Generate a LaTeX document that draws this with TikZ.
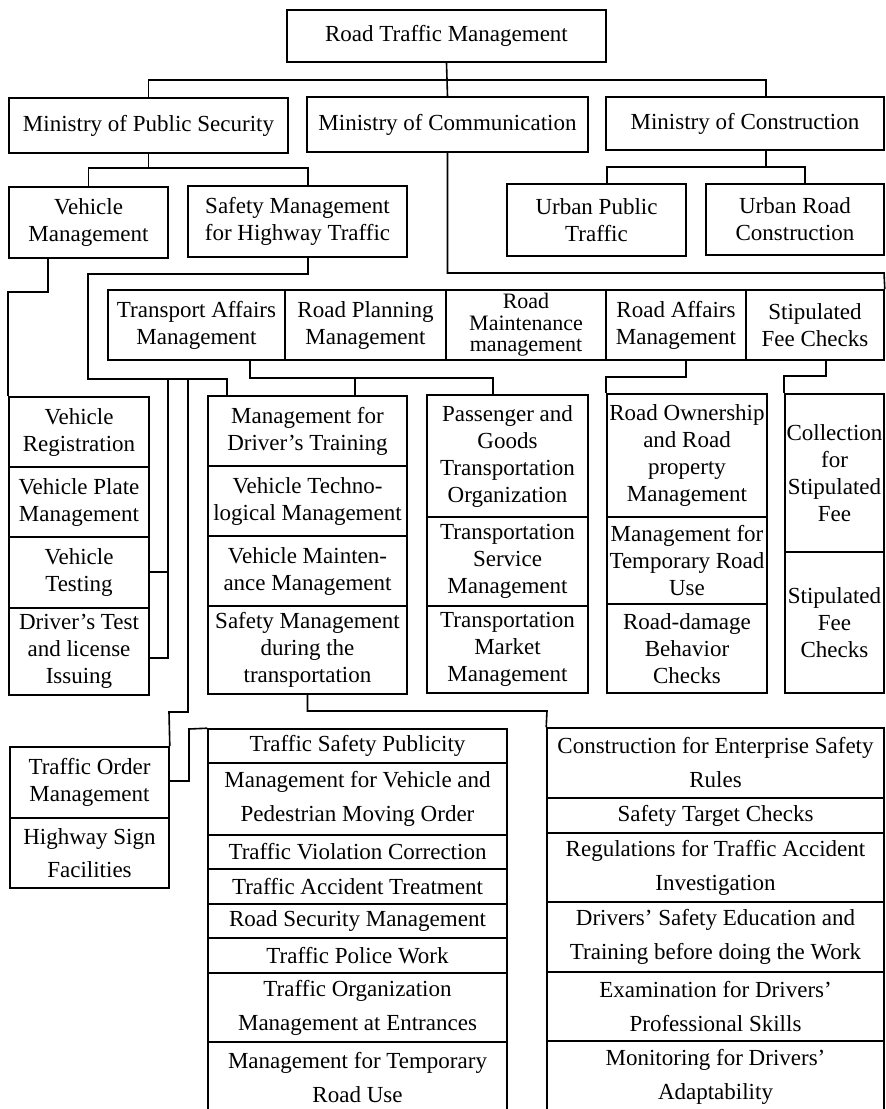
\documentclass[tikz,border=0pt]{standalone}
\usepackage{fontspec}
\setmainfont{Liberation Serif}
\newcommand{\cellnode}[7][]{\node[cell,#1,minimum width={(#5)-(#3)},minimum height={(#6)-(#4)}] (#2) at ({((#3)+(#5))/2},{((#4)+(#6))/2}) {#7};}
\begin{document}
\begin{tikzpicture}[x=1pt,y=-1pt,
  cell/.style={draw,line width=1.6pt,inner sep=0pt,align=center,font=\fontsize{23}{27}\selectfont},
  wide/.style={font=\fontsize{23}{34}\selectfont},
  mid/.style={font=\fontsize{23}{33}\selectfont},
  tight/.style={font=\fontsize{22}{21.5}\selectfont},
  link/.style={line width=1.6pt}]
\fill[white] (0,0) rectangle (886,1109);
\useasboundingbox (0,0) rectangle (886,1109);

% top levels
\cellnode{top}{287}{10}{606}{62}{Road Traffic Management}
\cellnode{mps}{9}{98}{288}{153}{Ministry of Public Security}
\cellnode{moc}{307}{97}{588}{152}{Ministry of Communication}
\cellnode{mcon}{606}{97}{884}{150}{Ministry of Construction}
\cellnode{vm}{9}{187}{168}{258}{Vehicle\\Management}
\cellnode{smh}{188}{186}{407}{257}{Safety Management\\for Highway Traffic}
\cellnode{upt}{507}{184}{686}{256}{Urban Public\\Traffic}
\cellnode{urc}{706}{184}{884}{255}{Urban Road\\Construction}

% row of communication departments
\cellnode{tam}{108}{290}{285}{360}{Transport Affairs\\Management}
\cellnode{rpm}{285}{290}{446}{360}{Road Planning\\Management}
\cellnode[tight]{rmm}{446}{290}{606}{360}{Road\\Maintenance\\management}
\cellnode{ram}{606}{290}{746}{360}{Road Affairs\\Management}
\cellnode{sfc}{746}{290}{884}{360}{Stipulated\\Fee Checks}

% vehicle column
\cellnode{vr}{9}{397}{149}{467}{Vehicle\\Registration}
\cellnode{vpm}{9}{467}{149}{537}{Vehicle Plate\\Management}
\cellnode{vt}{9}{537}{149}{608}{Vehicle\\Testing}
\cellnode{dtl}{9}{608}{149}{695}{Driver’s Test\\and license\\Issuing}

% driver training column
\cellnode{mdt}{208}{396}{407}{466}{Management for\\Driver’s Training}
\cellnode{vtm}{208}{466}{407}{536}{Vehicle Techno-\\logical Management}
\cellnode{vmm}{208}{536}{407}{606}{Vehicle Mainten-\\ance Management}
\cellnode{smt}{208}{606}{407}{694}{Safety Management\\during the\\transportation}

% passenger column
\cellnode{pgt}{427}{395}{588}{517}{Passenger and\\Goods\\Transportation\\Organization}
\cellnode{tsm}{427}{517}{588}{606}{Transportation\\Service\\Management}
\cellnode{tmm}{427}{606}{588}{693}{Transportation\\Market\\Management}

% road ownership column
\cellnode{ro}{607}{394}{767}{517}{Road Ownership\\and Road\\property\\Management}
\cellnode{mtr}{607}{517}{767}{604}{Management for\\Temporary Road\\Use}
\cellnode{rdb}{607}{604}{767}{693}{Road-damage\\Behavior\\Checks}

% fee column
\cellnode{cs}{785}{394}{884}{552}{Collection\\for\\Stipulated\\Fee}
\cellnode{sf}{785}{552}{884}{693}{Stipulated\\Fee\\Checks}

% traffic order column
\cellnode{tom}{10}{747}{169}{818}{Traffic Order\\Management}
\cellnode[mid]{hsf}{10}{818}{169}{888}{Highway Sign\\Facilities}

% traffic safety column
\cellnode{tsp}{208}{729}{507}{763}{Traffic Safety Publicity}
\cellnode[wide]{mvp}{208}{763}{507}{835}{Management for Vehicle and\\Pedestrian Moving Order}
\cellnode{tvc}{208}{835}{507}{869}{Traffic Violation Correction}
\cellnode{tat}{208}{869}{507}{904}{Traffic Accident Treatment}
\cellnode{rsm}{208}{904}{507}{938}{Road Security Management}
\cellnode{tpw}{208}{938}{507}{973}{Traffic Police Work}
\cellnode[wide]{toe}{208}{973}{507}{1042}{Traffic Organization\\Management at Entrances}
\cellnode[wide]{mtu}{208}{1042}{507}{1114}{Management for Temporary\\Road Use}

% safety during transportation column
\cellnode[wide]{ces}{547}{728}{884}{798}{Construction for Enterprise Safety\\Rules}
\cellnode{stc}{547}{798}{884}{833}{Safety Target Checks}
\cellnode[wide]{rta}{547}{833}{884}{902}{Regulations for Traffic Accident\\Investigation}
\cellnode[wide]{dse}{547}{902}{884}{972}{Drivers’ Safety Education and\\Training before doing the Work}
\cellnode[wide]{edp}{547}{972}{884}{1041}{Examination for Drivers’\\Professional Skills}
\cellnode[wide]{mda}{547}{1041}{884}{1113}{Monitoring for Drivers’\\Adaptability}

% junction coordinates
\coordinate (a2) at (766,80);
\coordinate (b1) at (308,168);
\coordinate (c1) at (766,167);
\coordinate (c2) at (607,167);
\coordinate (c3) at (805,167);
\coordinate (d1) at (884,273);
\coordinate (e1) at (48,292);
\coordinate (f1) at (308,274);
\coordinate (f2) at (88,379);
\coordinate (f3) at (227,379);
\coordinate (g1) at (168,379);
\coordinate (g2) at (168,658);
\coordinate (g3) at (168,572);
\coordinate (h1) at (188,379);
\coordinate (h2) at (188,712);
\coordinate (h3) at (169,712);
\coordinate (i1) at (189,781);
\coordinate (i2) at (189,729);
\coordinate (k1) at (250,378);
\coordinate (k2) at (355,378);
\coordinate (k3) at (493,378);
\coordinate (m1) at (686,377);
\coordinate (p1) at (826,376);
\coordinate (n1) at (547,711);

% connectors
\draw[link] (top.south) -- (moc.north);
\draw[link] (mps.north) |- (a2) -- (mcon.north -| a2);
\draw[link] (mps.south) |- (b1);
\draw[link] (vm.north) |- (b1) -- (smh.north -| b1);
\draw[link] (mcon.south -| c1) -- (c1);
\draw[link] (upt.north -| c2) |- (c3) -- (urc.north -| c3);
\draw[link] (moc.south) |- (d1) -- (sfc.north east);
\draw[link] (vm.south -| e1) -- (e1) -| (vr.north west);
\draw[link] (smh.south -| f1) -- (f1) -| (f2) -- (f3) -- (mdt.north -| f3);
\draw[link] (g1) -- (g2) -- (g2 -| dtl.east);
\draw[link] (g3) -- (g3 -| vt.east);
\draw[link] (h1) -- (h2) -- (h3) -- (tom.north east);
\draw[link] (i1 -| tom.east) -- (i1) -- (i2) -- (tsp.north west);
\draw[link] (tam.south -| k1) -- (k1) -- (k3) -- (pgt.north -| k3);
\draw[link] (k2) -- (mdt.north -| k2);
\draw[link] (ram.south -| m1) -- (m1) -| (ro.north west);
\draw[link] (sfc.south -| p1) -- (p1) -| (cs.north west);
\draw[link] (smt.south) |- (n1) -- (ces.north west);
\end{tikzpicture}
\end{document}
